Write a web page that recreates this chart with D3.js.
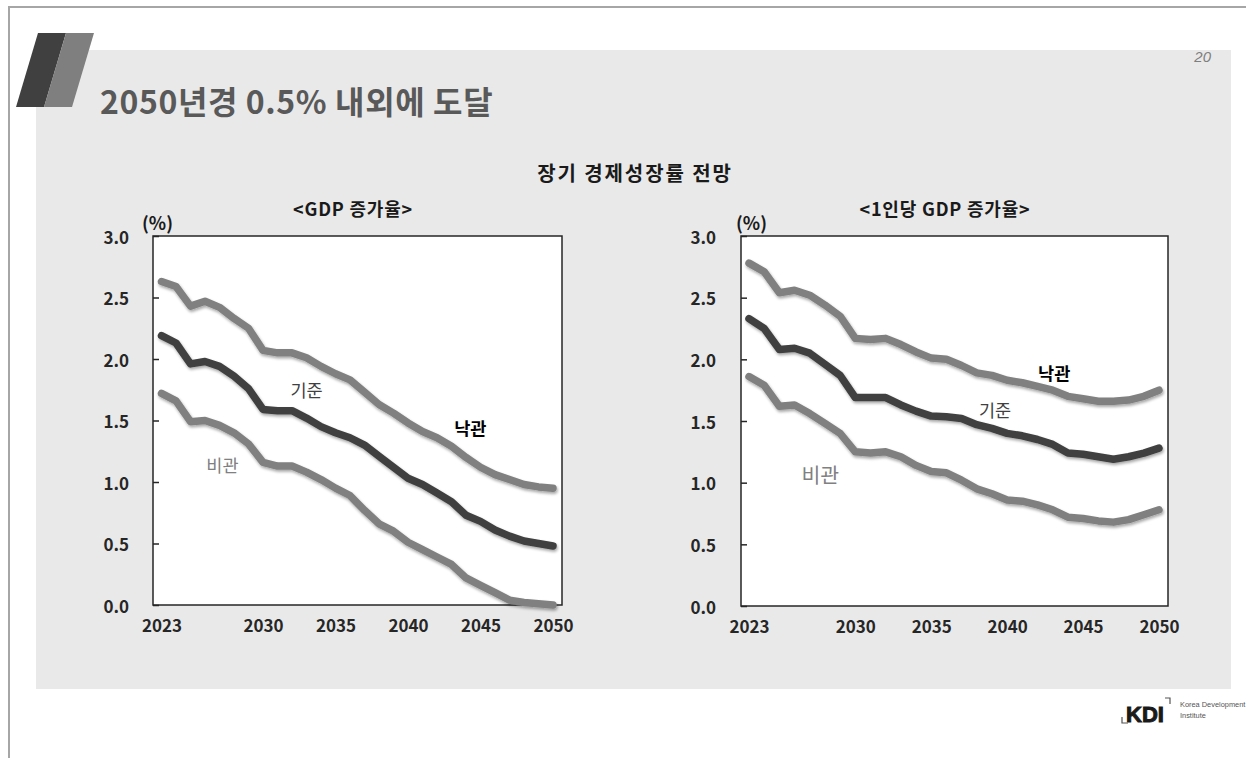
<!DOCTYPE html>
<html><head><meta charset="utf-8">
<script src="https://cdn.jsdelivr.net/npm/d3@7"></script>
<style>
body{margin:0;background:#fff}
svg{display:block}
text{font-family:"Noto Sans CJK KR","Noto Sans",sans-serif}
</style>
</head><body>
<svg id="c" width="1246" height="758"></svg>
<script>
// ---- data ----
const years = [2023,2024,2025,2026,2027,2028,2029,2030,2031,2032,2033,2034,2035,2036,2037,2038,2039,2040,2041,2042,2043,2044,2045,2046,2047,2048,2049,2050];
const xTickYears = [2023,2030,2035,2040,2045,2050];
const yTicks = [0,0.5,1.0,1.5,2.0,2.5,3.0];
const seriesNames = ["낙관","기준","비관"];

const gdpOptimistic   = [2.63,2.59,2.43,2.47,2.42,2.33,2.25,2.07,2.05,2.05,2.01,1.94,1.88,1.83,1.73,1.63,1.56,1.48,1.41,1.36,1.29,1.20,1.12,1.06,1.02,0.98,0.96,0.95];
const gdpBase         = [2.19,2.13,1.96,1.98,1.94,1.86,1.76,1.59,1.58,1.58,1.52,1.45,1.40,1.36,1.30,1.21,1.12,1.03,0.98,0.91,0.84,0.73,0.68,0.61,0.56,0.52,0.50,0.48];
const gdpPessimistic  = [1.72,1.66,1.49,1.50,1.46,1.40,1.31,1.16,1.13,1.13,1.08,1.02,0.95,0.89,0.77,0.66,0.60,0.51,0.45,0.39,0.33,0.22,0.16,0.10,0.04,0.02,0.01,0.00];

const pcOptimistic    = [2.78,2.71,2.54,2.56,2.52,2.44,2.35,2.17,2.16,2.17,2.12,2.06,2.01,2.00,1.95,1.89,1.87,1.83,1.81,1.78,1.75,1.70,1.68,1.66,1.66,1.67,1.70,1.75];
const pcBase          = [2.33,2.25,2.08,2.09,2.05,1.96,1.87,1.69,1.69,1.69,1.63,1.58,1.54,1.535,1.52,1.47,1.44,1.40,1.38,1.35,1.31,1.24,1.23,1.21,1.19,1.21,1.24,1.28];
const pcPessimistic   = [1.86,1.79,1.62,1.63,1.56,1.48,1.40,1.25,1.24,1.25,1.21,1.14,1.09,1.08,1.02,0.95,0.91,0.86,0.85,0.82,0.78,0.72,0.71,0.69,0.68,0.70,0.74,0.78];

// label anchor points (year, value)
const gdpLabelPos = [[2044.3,1.44],[2033.0,1.75],[2027.2,1.14]];
const pcLabelPos  = [[2043.1,1.89],[2039.2,1.59],[2027.7,1.07]];

// ---- drawing ----
const svg = d3.select("#c");
const W = 1246, H = 758;
const LATIN = "'Liberation Sans',Arial,sans-serif";

// slide frame
svg.append("rect").attr("x",0).attr("y",0).attr("width",W).attr("height",H).attr("fill","#fff");
svg.append("rect").attr("x",36).attr("y",50).attr("width",1195).attr("height",639).attr("fill","#e9e9e9");
svg.append("line").attr("x1",9).attr("x2",W).attr("y1",7).attr("y2",7).attr("stroke","#a6a6a6").attr("stroke-width",2);
svg.append("line").attr("x1",9).attr("x2",9).attr("y1",6).attr("y2",H).attr("stroke","#a6a6a6").attr("stroke-width",2);

// decorative parallelograms
svg.append("polygon").attr("points","38,33 66,33 44,107 16,107").attr("fill","#404040");
svg.append("polygon").attr("points","66,33 94,33 72,107 44,107").attr("fill","#7f7f7f");

// title
svg.append("text").attr("x",100).attr("y",114).attr("font-size",32).attr("font-weight","bold")
  .attr("letter-spacing",0.6).attr("fill","#595959").text("2050년경 0.5% 내외에 도달");
// page number
svg.append("text").attr("x",1211).attr("y",62).attr("text-anchor","end").attr("font-size",15)
  .attr("font-style","italic").attr("fill","#7f7f7f").style("font-family",LATIN).text("20");

// chart title
svg.append("text").attr("x",635).attr("y",172).attr("text-anchor","middle").attr("dominant-baseline","central")
  .attr("font-size",20).attr("letter-spacing",1.9).attr("font-weight","bold").attr("fill","#1a1a1a").text("장기 경제성장률 전망");

// shadow filter
const defs = svg.append("defs");
const f = defs.append("filter").attr("id","sh").attr("x","-10%").attr("y","-10%").attr("width","120%").attr("height","130%");
f.append("feGaussianBlur").attr("in","SourceAlpha").attr("stdDeviation",1.6).attr("result","b");
f.append("feOffset").attr("in","b").attr("dx",1).attr("dy",2).attr("result","o");
f.append("feComponentTransfer").attr("in","o").attr("result","o2")
  .append("feFuncA").attr("type","linear").attr("slope",0.35);
f.append("feGaussianBlur").attr("in","SourceGraphic").attr("stdDeviation",0.6).attr("result","s");
const m = f.append("feMerge");
m.append("feMergeNode").attr("in","o2");
m.append("feMergeNode").attr("in","s");

const colors = ["#808080","#404040","#808080"];
const labelColors = ["#000","#404040","#808080"];
const labelWeights = ["bold","normal","normal"];

function panel(cfg){
  const g = svg.append("g");
  const x = d3.scaleLinear().domain([2023,2050]).range([cfg.x0, cfg.x1]);
  const y = d3.scaleLinear().domain([0,3]).range([cfg.yb, cfg.yt]);
  // plot frame
  g.append("rect").attr("x",cfg.fl).attr("y",cfg.yt).attr("width",cfg.fr-cfg.fl).attr("height",cfg.yb-cfg.yt)
    .attr("fill","#fff").attr("stroke","#262626").attr("stroke-width",1.5);
  // y axis with inward ticks
  const ya = d3.axisRight(y).tickValues(yTicks).tickSize(6).tickFormat("");
  const yg = g.append("g").attr("transform",`translate(${cfg.fl},0)`).call(ya);
  yg.select(".domain").remove();
  yg.selectAll(".tick line").attr("stroke","#262626").attr("stroke-width",1.5);
  // y labels
  g.selectAll(".yl").data(yTicks).enter().append("text")
    .attr("x",cfg.ylx).attr("y",d=>y(d)).attr("text-anchor","end").attr("dominant-baseline","central")
    .attr("font-size",17).attr("font-weight","bold").attr("fill","#262626").text(d=>d.toFixed(1));
  // x labels
  const xa = d3.axisBottom(x).tickValues(xTickYears).tickSize(0).tickFormat(d3.format("d"));
  const xg = g.append("g").attr("transform",`translate(0,${cfg.yb})`).call(xa);
  xg.select(".domain").remove();
  xg.selectAll("text").attr("y",15).attr("dy","0.71em").attr("font-size",17).attr("font-weight","bold")
    .attr("fill","#262626");
  // unit
  g.append("text").attr("x",cfg.ux).attr("y",222).attr("dominant-baseline","central")
    .attr("font-size",18).attr("font-weight","bold").attr("fill","#1a1a1a").text("(%)");
  // subtitle
  g.append("text").attr("x",cfg.tx).attr("y",208).attr("text-anchor","middle").attr("dominant-baseline","central")
    .attr("font-size",18).attr("letter-spacing",0.8).attr("font-weight","bold").attr("fill","#1a1a1a").text(cfg.title);
  // lines
  const line = d3.line().x((d,i)=>x(years[i])).y(d=>y(d));
  cfg.series.forEach((s,i)=>{
    g.append("path").datum(s).attr("d",line).attr("fill","none").attr("stroke",colors[i])
      .attr("stroke-width",7.5).attr("stroke-linejoin","round").attr("stroke-linecap","round")
      .attr("filter","url(#sh)");
  });
  // series labels
  cfg.labels.forEach((p,i)=>{
    g.append("text").attr("x",x(p[0])).attr("y",y(p[1])).attr("text-anchor","middle").attr("dominant-baseline","central")
      .attr("font-size",cfg.labelSizes[i]).attr("font-weight",labelWeights[i]).attr("fill",labelColors[i]).text(seriesNames[i]);
  });
}

panel({x0:161.5,x1:553,fl:153,fr:562,yt:236,yb:605,ylx:129,ux:142,tx:353,title:"<GDP 증가율>",
  series:[gdpOptimistic,gdpBase,gdpPessimistic],labels:gdpLabelPos,labelSizes:[17.5,17.5,17.5]});
panel({x0:749,x1:1159,fl:741,fr:1168,yt:236,yb:606,ylx:716,ux:736,tx:945,title:"<1인당 GDP 증가율>",
  series:[pcOptimistic,pcBase,pcPessimistic],labels:pcLabelPos,labelSizes:[17.5,17.5,20.5]});

// KDI logo
const lg = svg.append("g");
lg.append("text").attr("x",1126).attr("y",714).attr("dominant-baseline","central").attr("font-size",22)
  .attr("font-weight","bold").attr("fill","#1a1a1a").attr("stroke","#1a1a1a").attr("stroke-width",1)
  .style("font-family",LATIN).text("KDI");
lg.append("path").attr("d","M1165,698 L1170,698 L1170,704").attr("fill","none").attr("stroke","#555").attr("stroke-width",1.2);
lg.append("path").attr("d","M1122,717 L1122,723 L1128,723").attr("fill","none").attr("stroke","#555").attr("stroke-width",1.2);
lg.append("text").attr("x",1180).attr("y",707).attr("font-size",7.4).attr("fill","#555")
  .style("font-family",LATIN).text("Korea Development");
lg.append("text").attr("x",1180).attr("y",718).attr("font-size",7.4).attr("fill","#555")
  .style("font-family",LATIN).text("Institute");
</script>
</body></html>
